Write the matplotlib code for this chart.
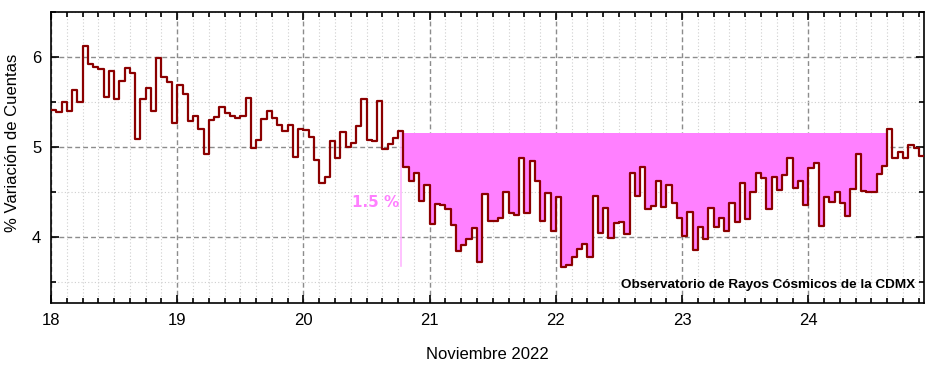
import numpy as np
import matplotlib
matplotlib.use("Agg")
import matplotlib.pyplot as plt
from matplotlib.ticker import MultipleLocator

# variacion horaria (%) por dia, noviembre 2022
dia18 = [5.41, 5.39, 5.50, 5.40, 5.63, 5.50, 6.12, 5.92, 5.89, 5.86, 5.55, 5.84,
         5.53, 5.73, 5.87, 5.82, 5.09, 5.53, 5.65, 5.40, 5.99, 5.77, 5.72, 5.26]
dia19 = [5.69, 5.59, 5.29, 5.34, 5.20, 4.92, 5.30, 5.33, 5.44, 5.38, 5.34, 5.32,
         5.34, 5.54, 4.99, 5.08, 5.31, 5.40, 5.32, 5.24, 5.17, 5.24, 4.89, 5.20]
dia20 = [5.19, 5.11, 4.85, 4.60, 4.66, 5.06, 4.88, 5.16, 5.00, 5.04, 5.23, 5.53,
         5.08, 5.06, 5.51, 4.98, 5.03, 5.10, 5.18, 4.77, 4.62, 4.71, 4.40, 4.58]
dia21 = [4.14, 4.36, 4.35, 4.31, 4.13, 3.84, 3.91, 3.98, 4.10, 3.72, 4.48, 4.17,
         4.18, 4.21, 4.50, 4.26, 4.24, 4.87, 4.26, 4.84, 4.62, 4.17, 4.49, 4.06]
dia22 = [4.44, 3.66, 3.69, 3.78, 3.86, 3.92, 3.77, 4.45, 4.04, 4.32, 3.99, 4.15,
         4.16, 4.03, 4.71, 4.45, 4.77, 4.31, 4.34, 4.62, 4.33, 4.57, 4.38, 4.21]
dia23 = [4.01, 4.28, 3.85, 4.11, 3.98, 4.32, 4.11, 4.21, 4.06, 4.38, 4.16, 4.60,
         4.20, 4.50, 4.71, 4.65, 4.31, 4.66, 4.52, 4.69, 4.87, 4.54, 4.62, 4.35]
dia24 = [4.76, 4.82, 4.12, 4.44, 4.39, 4.50, 4.38, 4.23, 4.53, 4.92, 4.51, 4.50,
         4.50, 4.70, 4.79, 5.20, 4.88, 4.94, 4.87, 5.02, 4.99, 4.90]

dias = [18, 19, 20, 21, 22, 23, 24]
nivel_previo = 5.155      # nivel antes del decrecimiento
minimo = 3.67
inicio_fd = (20, 19)      # dia, hora
fin_fd = (24, 15)
etiqueta = "1.5 %"

valores = np.array(dia18 + dia19 + dia20 + dia21 + dia22 + dia23 + dia24)
x = 18 + np.arange(len(valores) + 1) / 24.0
y = np.append(valores, valores[-1])

plt.rcParams['font.family'] = ['Liberation Sans', 'DejaVu Sans']

fig = plt.figure(figsize=(9.4, 3.73), dpi=100)
ax = fig.add_axes([0.0543, 0.188, 0.9287, 0.7806])

# decrecimiento Forbush sombreado
i0 = (inicio_fd[0] - 18) * 24 + inicio_fd[1]
i1 = (fin_fd[0] - 18) * 24 + fin_fd[1]
ax.fill_between(x[i0:i1 + 1], y[i0:i1 + 1], nivel_previo, step='post',
                color='#ff80ff', linewidth=0, zorder=2)
ax.step(x, y, where='post', color='#8b0000', lw=1.6, zorder=3)

xv = 20 + 18.5 / 24
ax.plot([xv, xv], [minimo, nivel_previo], color='#ffb8ff', lw=1.2, zorder=2)
ax.text(xv - 0.01, 4.38, etiqueta, color='#ff80ff', fontsize=11, fontweight='bold',
        family='DejaVu Sans', ha='right', va='center')

ax.text(0.9897, 0.062, "Observatorio de Rayos Cósmicos de la CDMX", transform=ax.transAxes,
        ha='right', va='center', fontsize=9.7, fontweight='bold', color='black')

ax.set_xlim(18, x[-1])
ax.set_ylim(3.265, 6.5)
ax.set_xticks(dias)
ax.set_xticklabels([str(d) for d in dias])
ax.xaxis.set_minor_locator(MultipleLocator(1 / 8))
ax.set_yticks([4, 5, 6])
ax.yaxis.set_minor_locator(MultipleLocator(0.5))

ax.grid(which='major', color='#8c8c8c', linestyle=(0, (3.5, 2.2)), lw=1.0, zorder=1)
ax.grid(which='minor', color='#cfcfcf', linestyle=(0, (1, 2)), lw=0.8, zorder=1)
ax.set_axisbelow(True)

ax.tick_params(which='both', direction='in', top=True, right=True, width=1.2)
ax.tick_params(which='major', length=6, labelsize=12, pad=7)
ax.tick_params(which='minor', length=3.5)
for s in ax.spines.values():
    s.set_linewidth(1.2)

ax.set_ylabel("% Variación de Cuentas", fontsize=12)
ax.yaxis.set_label_coords(-0.0355, 0.55)
ax.set_xlabel("Noviembre 2022", fontsize=12)
ax.xaxis.set_label_coords(0.5, -0.15)

fig.savefig("out.png", dpi=100)
